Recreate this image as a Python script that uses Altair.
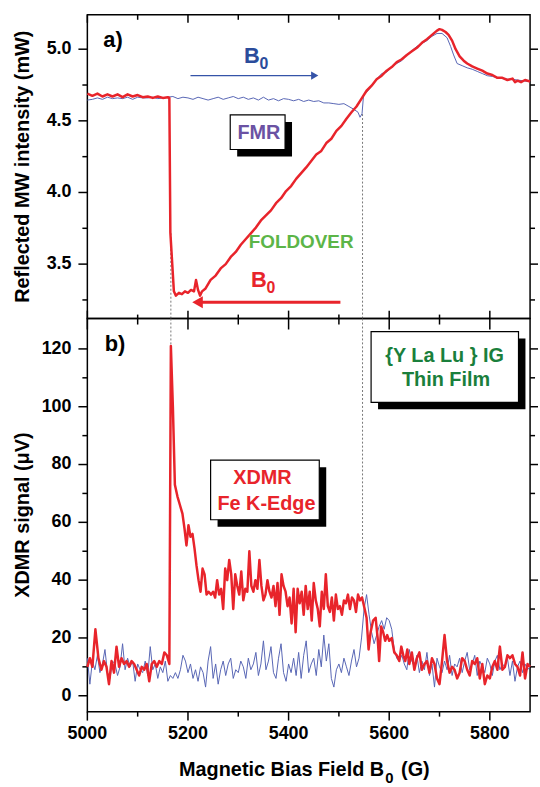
import altair as alt
import pandas as pd

# ---------------- data ----------------
# panel a) reflected MW intensity (mW)
top_red_x = [5000, 5010, 5020, 5030, 5040, 5050, 5060, 5070, 5080, 5090, 5100, 5110, 5120, 5130,
             5140, 5150, 5160, 5163, 5165, 5172, 5176, 5182, 5188, 5194, 5200, 5206, 5212, 5216,
             5220, 5224, 5228, 5235, 5245, 5255, 5265, 5275, 5285, 5295, 5305, 5315, 5325, 5335,
             5345, 5355, 5365, 5375, 5385, 5395, 5405, 5415, 5425, 5435, 5445, 5455, 5465, 5475,
             5485, 5495, 5505, 5515, 5525, 5535, 5545, 5555, 5565, 5575, 5585, 5595, 5605, 5615,
             5625, 5635, 5645, 5655, 5665, 5675, 5685, 5695, 5700, 5705, 5712, 5718, 5725, 5732,
             5740, 5748, 5755, 5765, 5775, 5785, 5795, 5805, 5815, 5825, 5835, 5845, 5850, 5855,
             5862, 5870, 5880]
top_red_y = [4.69, 4.675, 4.69, 4.67, 4.685, 4.67, 4.685, 4.665, 4.685, 4.67, 4.68, 4.665, 4.67, 4.66,
             4.67, 4.66, 4.665, 4.66, 3.72, 3.31, 3.28, 3.30, 3.29, 3.31, 3.30, 3.32, 3.31, 3.39,
             3.32, 3.28, 3.31, 3.33, 3.39, 3.42, 3.47, 3.50, 3.55, 3.585, 3.635, 3.675, 3.715, 3.755,
             3.805, 3.84, 3.875, 3.925, 3.96, 4.01, 4.045, 4.095, 4.135, 4.175, 4.22, 4.265, 4.29, 4.345,
             4.375, 4.43, 4.465, 4.515, 4.56, 4.60, 4.655, 4.71, 4.745, 4.79, 4.815, 4.85, 4.875, 4.91,
             4.93, 4.96, 4.985, 5.01, 5.045, 5.07, 5.10, 5.13, 5.14, 5.135, 5.12, 5.10, 5.06, 5.00,
             4.95, 4.92, 4.90, 4.88, 4.865, 4.85, 4.83, 4.82, 4.80, 4.80, 4.785, 4.795, 4.77, 4.78,
             4.77, 4.785, 4.775]

top_blue_x = [5000, 5010, 5020, 5030, 5040, 5050, 5060, 5070, 5080, 5090, 5100, 5110, 5120, 5130,
              5140, 5150, 5160, 5170, 5180, 5190, 5200, 5210, 5220, 5230, 5240, 5250, 5260, 5270,
              5280, 5290, 5300, 5310, 5320, 5330, 5340, 5350, 5360, 5370, 5380, 5390, 5400, 5410,
              5420, 5430, 5440, 5450, 5460, 5470, 5480, 5490, 5500, 5510, 5520, 5530, 5538, 5542,
              5546, 5549, 5555, 5565, 5575, 5585, 5595, 5605, 5615, 5625, 5635, 5645, 5655, 5665,
              5675, 5685, 5695, 5705, 5715, 5722, 5728, 5735, 5745, 5755, 5765, 5775, 5785, 5795,
              5805, 5815, 5825, 5835, 5845, 5855, 5865, 5875]
top_blue_y = [4.645, 4.65, 4.66, 4.65, 4.665, 4.655, 4.66, 4.655, 4.665, 4.65, 4.665, 4.66, 4.66, 4.665,
              4.655, 4.66, 4.665, 4.67, 4.655, 4.665, 4.66, 4.65, 4.665, 4.655, 4.645, 4.655, 4.665, 4.65,
              4.66, 4.67, 4.655, 4.665, 4.65, 4.66, 4.645, 4.665, 4.645, 4.655, 4.64, 4.655, 4.65, 4.64,
              4.65, 4.635, 4.645, 4.635, 4.64, 4.625, 4.625, 4.62, 4.615, 4.62, 4.60, 4.58, 4.56, 4.525,
              4.55, 4.68, 4.70, 4.74, 4.79, 4.83, 4.84, 4.88, 4.90, 4.92, 4.96, 4.99, 5.02, 5.04,
              5.06, 5.09, 5.11, 5.11, 5.08, 5.02, 4.96, 4.90, 4.885, 4.87, 4.86, 4.845, 4.83, 4.815,
              4.81, 4.80, 4.795, 4.79, 4.79, 4.785, 4.78, 4.775]

# panel b) XDMR signal (uV)
bot_red_x = [5000, 5005, 5010, 5016, 5022, 5028, 5033, 5038, 5043, 5048, 5053, 5058, 5063, 5068,
             5073, 5078, 5083, 5088, 5093, 5098, 5103, 5108, 5113, 5118, 5123, 5128, 5133, 5138,
             5143, 5148, 5153, 5158, 5163, 5166, 5170, 5174, 5179, 5184, 5189, 5193, 5197, 5201,
             5205, 5209, 5213, 5217, 5221, 5225, 5229, 5233, 5237, 5241, 5246, 5250, 5254, 5258,
             5262, 5266, 5270, 5274, 5278, 5282, 5286, 5290, 5294, 5298, 5302, 5306, 5310, 5314,
             5318, 5322, 5326, 5330, 5334, 5338, 5342, 5346, 5350, 5354, 5358, 5362, 5366, 5370,
             5374, 5378, 5382, 5386, 5390, 5394, 5398, 5402, 5406, 5410, 5414, 5418, 5422, 5426,
             5430, 5434, 5438, 5442, 5446, 5450, 5454, 5458, 5462, 5466, 5470, 5474, 5478, 5482,
             5486, 5490, 5494, 5498, 5502, 5506, 5510, 5514, 5518, 5522, 5526, 5530, 5534, 5538,
             5542, 5546, 5550, 5555, 5559, 5563, 5568, 5573, 5577, 5580, 5584, 5588, 5592, 5596,
             5600, 5605, 5610, 5615, 5620, 5624, 5628, 5632, 5636, 5640, 5645, 5650, 5655, 5660,
             5665, 5670, 5675, 5680, 5685, 5690, 5695, 5700, 5705, 5710, 5715, 5720, 5725, 5730,
             5735, 5740, 5745, 5750, 5755, 5760, 5765, 5770, 5775, 5780, 5785, 5790, 5795, 5800,
             5805, 5810, 5815, 5820, 5825, 5830, 5835, 5840, 5845, 5850, 5855, 5860, 5865, 5870,
             5875, 5880]
bot_red_y = [10, 13, 10, 23, 13, 9, 12, 10, 4, 12, 8, 17, 10, 13,
             11, 12, 10, 12, 11, 9, 7, 10, 9, 11, 5, 11, 12, 10,
             12, 11, 15, 14, 11, 121, 100, 73, 69, 66, 63, 58, 52, 59,
             55, 56, 51, 45, 40, 36, 44, 42, 35, 36, 35, 36, 34, 40,
             35, 37, 30, 44, 40, 47, 42, 30, 42, 38, 35, 43, 33, 37,
             36, 50, 38, 36, 40, 37, 47, 38, 33, 35, 40, 36, 34, 38,
             31, 39, 28, 42, 38, 36, 31, 34, 25, 37, 22, 37, 32, 36,
             28, 38, 30, 36, 26, 39, 33, 30, 24, 36, 30, 42, 31, 29,
             34, 26, 35, 30, 31, 28, 33, 32, 35, 30, 34, 33, 29, 35,
             33, 34, 31, 27, 16, 22, 26, 27, 20, 12, 24, 22, 19, 21,
             19, 20, 15, 14, 12, 17, 14, 12, 16, 11, 15, 9, 13, 15,
             9, 11, 12, 8, 13, 11, 6, 4, 12, 21, 12, 8, 10, 9,
             6, 8, 13, 12, 9, 7, 12, 11, 13, 6, 11, 4, 7, 6,
             10, 12, 9, 17, 9, 10, 14, 13, 14, 11, 10, 7, 15, 6,
             11, 10]

bot_blue_x = [5000, 5005, 5010, 5015, 5020, 5025, 5030, 5035, 5040, 5045, 5050, 5055, 5060, 5065,
              5070, 5075, 5080, 5085, 5090, 5095, 5100, 5105, 5110, 5115, 5120, 5125, 5130, 5135,
              5140, 5145, 5150, 5155, 5160, 5165, 5170, 5175, 5180, 5185, 5190, 5195, 5200, 5205,
              5210, 5215, 5220, 5225, 5230, 5235, 5240, 5245, 5250, 5255, 5260, 5265, 5270, 5275,
              5280, 5285, 5290, 5295, 5300, 5305, 5310, 5315, 5320, 5325, 5330, 5335, 5340, 5345,
              5350, 5355, 5360, 5365, 5370, 5375, 5380, 5385, 5390, 5395, 5400, 5405, 5410, 5415,
              5420, 5425, 5430, 5435, 5440, 5445, 5450, 5455, 5460, 5465, 5470, 5475, 5480, 5485,
              5490, 5495, 5500, 5505, 5510, 5515, 5520, 5525, 5530, 5535, 5540, 5545, 5550, 5555,
              5560, 5565, 5570, 5575, 5580, 5585, 5590, 5595, 5600, 5605, 5610, 5615, 5620, 5625,
              5630, 5635, 5640, 5645, 5650, 5655, 5660, 5665, 5670, 5675, 5680, 5685, 5690, 5695,
              5700, 5705, 5710, 5715, 5720, 5725, 5730, 5735, 5740, 5745, 5750, 5755, 5760, 5765,
              5770, 5775, 5780, 5785, 5790, 5795, 5800, 5805, 5810, 5815, 5820, 5825, 5830, 5835,
              5840, 5845, 5850, 5855, 5860, 5865, 5870, 5875, 5880]
bot_blue_y = [13, 4, 12, 9, 14, 8, 11, 16, 8, 6, 12, 11, 7, 10,
              18, 9, 13, 10, 12, 5, 11, 9, 8, 12, 7, 17, 9, 11,
              6, 10, 8, 12, 5, 7, 6, 8, 6, 9, 14, 12, 8, 11,
              6, 9, 5, 10, 8, 3, 12, 17, 6, 11, 4, 9, 12, 7,
              11, 13, 6, 9, 8, 12, 10, 6, 13, 9, 11, 15, 7, 11,
              19, 9, 12, 17, 8, 6, 13, 18, 8, 5, 11, 8, 13, 7,
              15, 6, 14, 19, 8, 11, 13, 7, 16, 10, 21, 12, 18, 6,
              3, 9, 11, 8, 13, 10, 7, 12, 16, 10, 13, 20, 30, 35,
              28, 22, 18, 21, 24, 26, 23, 27, 26, 23, 16, 13, 12, 14,
              11, 9, 16, 12, 10, 14, 8, 12, 9, 15, 7, 11, 3, 13,
              10, 8, 12, 9, 14, 7, 11, 10, 13, 8, 12, 15, 9, 11,
              14, 7, 12, 10, 8, 13, 11, 7, 12, 14, 9, 11, 10, 13,
              7, 12, 5, 10, 12, 8, 11, 9, 10]

# axis ticks (major carry labels, minor are unlabeled)
x_major = [5000, 5200, 5400, 5600, 5800]
x_minor = [5100, 5300, 5500, 5700]
top_major = [3.5, 4.0, 4.5, 5.0]
top_minor = [3.25, 3.75, 4.25, 4.75]
bot_major = [0, 20, 40, 60, 80, 100, 120]
bot_minor = [10, 30, 50, 70, 90, 110]

# axis titles
top_y_title = "Reflected MW intensity  (mW)"
bot_y_title = "XDMR signal (μV)"
x_title_parts = ["Magnetic Bias Field B", "0", "(G)"]

# annotations panel a
top_text = ["FMR", "FOLDOVER", "a)"]
top_text_x = [5341, 5425, 5051]
top_text_y = [4.413, 3.655, 5.064]
top_text_color = ["#6b52a3", "#5cb548", "black"]
top_text_size = [20, 19, 22]

b0_x = [5335, 5349]
b0_y = [4.949, 3.39]
b0_color = ["#2b4c9b", "#e8242b"]

arrow_x1 = [5205, 5503]
arrow_x2 = [5450, 5222]
arrow_y = [4.816, 3.234]
arrow_color = ["#3553a8", "#e8242b"]
arrow_width = [1.2, 3]
head_x = [5452, 5219]
head_shape = ["triangle-right", "triangle-left"]
head_size = [70, 150]

top_box_x1 = [5284]
top_box_x2 = [5393]
top_box_y1 = [4.541]
top_box_y2 = [4.300]

top_dot_x = [5166, 5547]
top_dot_y2 = [3.72, 4.55]

# annotations panel b
bot_text = ["b)", "XDMR", "Fe K-Edge", "{Y La Lu } IG", "Thin Film"]
bot_text_x = [5055, 5348, 5356, 5710, 5713]
bot_text_y = [121.7, 75.4, 66.3, 117.7, 109.2]
bot_text_color = ["black", "#e8242b", "#e8242b", "#1a7f3c", "#1a7f3c"]
bot_text_size = [22, 20, 20, 20, 20]

bot_box_x1 = [5245, 5564]
bot_box_x2 = [5461, 5857]
bot_box_y1 = [81.5, 126.0]
bot_box_y2 = [60.9, 101.5]

bot_dot_x = [5166, 5547]
bot_dot_y2 = [121, 34]

# ---------------- chart ----------------
RED = "#e8242b"
BLUE = "#5866b4"
FONT = "Liberation Sans"
W, H_TOP, H_BOT = 446, 306, 396
XDOM = [5000, 5880]
TOPDOM = [3.12, 5.24]
BOTDOM = [-5.5, 130.5]

xs = alt.Scale(domain=XDOM, nice=False, zero=False)
ys_top = alt.Scale(domain=TOPDOM, nice=False, zero=False)
ys_bot = alt.Scale(domain=BOTDOM, nice=False, zero=False)

df_top_red = pd.DataFrame({"x": top_red_x, "y": top_red_y, "i": range(len(top_red_x))})
df_top_blue = pd.DataFrame({"x": top_blue_x, "y": top_blue_y, "i": range(len(top_blue_x))})
df_bot_red = pd.DataFrame({"x": bot_red_x, "y": bot_red_y, "i": range(len(bot_red_x))})
df_bot_blue = pd.DataFrame({"x": bot_blue_x, "y": bot_blue_y, "i": range(len(bot_blue_x))})

TICK = dict(color="black", strokeWidth=1.5)
LABEL = dict(font=FONT, fontWeight="bold", fontSize=18, color="black")
TITLE = dict(font=FONT, fontWeight="bold", fontSize=20, color="black")

# The whole frame (ticks, tick labels, titles) is drawn with marks; no Vega axes are used.


def X(field):
    return alt.X(field, scale=xs, axis=None)


def Ya(field):
    return alt.Y(field, scale=ys_top, axis=None)


def Yb(field):
    return alt.Y(field, scale=ys_bot, axis=None)


def xticks(values, y0, y1):
    return alt.Chart(pd.DataFrame({"v": values})).mark_rule(**TICK).encode(
        x=X("v:Q"), y=alt.value(y0), y2=alt.value(y1))


def yticks(Y, values, x0, x1):
    return alt.Chart(pd.DataFrame({"v": values})).mark_rule(**TICK).encode(
        y=Y("v:Q"), x=alt.value(x0), x2=alt.value(x1))


def ylabels(Y, values, fmt):
    df = pd.DataFrame({"v": values, "t": [format(v, fmt) for v in values]})
    return alt.Chart(df).mark_text(align="right", baseline="middle", **LABEL).encode(
        y=Y("v:Q"), x=alt.value(-16), text="t:N")


def xlabels(values, y):
    df = pd.DataFrame({"v": values, "t": [str(v) for v in values]})
    return alt.Chart(df).mark_text(align="center", baseline="top", **LABEL).encode(
        x=X("v:Q"), y=alt.value(y), text="t:N")


def ytitle(text, h):
    return alt.Chart(pd.DataFrame({"t": [text]})).mark_text(
        angle=270, align="center", baseline="bottom", **TITLE).encode(
        x=alt.value(-55), y=alt.value(h / 2), text="t:N")


# ---- panel a ----
ticks_a = [
    xticks(x_major, 0, 8), xticks(x_minor, 0, 5),
    yticks(Ya, top_major, -9, 0), yticks(Ya, top_minor, -5, 0),
    yticks(Ya, top_major, W, W + 8), yticks(Ya, top_minor, W, W + 5),
]
frame_a = [ylabels(Ya, top_major, ".1f"), ytitle(top_y_title, H_TOP)]

red_a = alt.Chart(df_top_red).mark_line(color=RED, strokeWidth=2.5, strokeJoin="round").encode(
    x=X("x:Q"), y=Ya("y:Q"), order="i:Q")
blue_a = alt.Chart(df_top_blue).mark_line(color=BLUE, strokeWidth=1).encode(
    x=X("x:Q"), y=Ya("y:Q"), order="i:Q")

dots_a = alt.Chart(pd.DataFrame({"x": top_dot_x, "y2": top_dot_y2})).mark_rule(
    color="#777777", strokeDash=[2, 2], strokeWidth=1).encode(
    x=X("x:Q"), y=Ya("lo:Q"), y2="y2:Q").transform_calculate(lo=str(TOPDOM[0]))

df_box_a = pd.DataFrame({"x1": top_box_x1, "x2": top_box_x2, "y1": top_box_y1, "y2": top_box_y2})
shadow_a = alt.Chart(df_box_a).mark_rect(color="black", xOffset=7, yOffset=7, x2Offset=7, y2Offset=7).encode(
    x=X("x1:Q"), x2="x2:Q", y=Ya("y1:Q"), y2="y2:Q")
box_a = alt.Chart(df_box_a).mark_rect(fill="white", stroke="black", strokeWidth=1.2).encode(
    x=X("x1:Q"), x2="x2:Q", y=Ya("y1:Q"), y2="y2:Q")

df_text_a = pd.DataFrame({"t": top_text, "x": top_text_x, "y": top_text_y,
                          "c": top_text_color, "s": top_text_size})
text_a = alt.Chart(df_text_a).mark_text(font=FONT, fontWeight="bold", baseline="middle", align="center").encode(
    x=X("x:Q"), y=Ya("y:Q"), text="t:N",
    color=alt.Color("c:N", scale=None), size=alt.Size("s:Q", scale=None))

df_b0 = pd.DataFrame({"x": b0_x, "y": b0_y, "c": b0_color})
b_big = alt.Chart(df_b0).mark_text(text="B", font=FONT, fontWeight="bold", fontSize=22,
                                   baseline="middle", align="center", dx=-4).encode(
    x=X("x:Q"), y=Ya("y:Q"), color=alt.Color("c:N", scale=None))
b_sub = alt.Chart(df_b0).mark_text(text="0", font=FONT, fontWeight="bold", fontSize=16,
                                   baseline="middle", align="center", dx=8, dy=8).encode(
    x=X("x:Q"), y=Ya("y:Q"), color=alt.Color("c:N", scale=None))

df_arrow = pd.DataFrame({"x1": arrow_x1, "x2": arrow_x2, "y": arrow_y, "c": arrow_color,
                         "w": arrow_width, "hx": head_x, "sh": head_shape, "hs": head_size})
arrow_lines = alt.Chart(df_arrow).mark_rule().encode(
    x=X("x1:Q"), x2="x2:Q", y=Ya("y:Q"),
    color=alt.Color("c:N", scale=None), strokeWidth=alt.StrokeWidth("w:Q", scale=None))
arrow_heads = alt.Chart(df_arrow).mark_point(filled=True, opacity=1).encode(
    x=X("hx:Q"), y=Ya("y:Q"),
    color=alt.Color("c:N", scale=None), shape=alt.Shape("sh:N", scale=None),
    size=alt.Size("hs:Q", scale=None))

panel_a = alt.layer(*ticks_a, *frame_a, dots_a, blue_a, red_a, shadow_a, box_a, text_a,
                    b_big, b_sub, arrow_lines, arrow_heads).properties(width=W, height=H_TOP)

# ---- panel b ----
ticks_b = [
    xticks(x_major, -8, 11), xticks(x_minor, -4, 6),
    xticks(x_major, H_BOT, H_BOT + 9), xticks(x_minor, H_BOT, H_BOT + 5),
    yticks(Yb, bot_major, -9, 0), yticks(Yb, bot_minor, -5, 0),
    yticks(Yb, bot_major, W, W + 8), yticks(Yb, bot_minor, W, W + 5),
]

xt_main = alt.Chart(pd.DataFrame({"t": [x_title_parts[0]]})).mark_text(
    align="right", baseline="alphabetic", **TITLE).encode(
    x=alt.value(299), y=alt.value(H_BOT + 65), text="t:N")
xt_sub = alt.Chart(pd.DataFrame({"t": [x_title_parts[1]]})).mark_text(
    align="left", baseline="alphabetic", font=FONT, fontWeight="bold", fontSize=15, color="black").encode(
    x=alt.value(300), y=alt.value(H_BOT + 72), text="t:N")
xt_end = alt.Chart(pd.DataFrame({"t": [x_title_parts[2]]})).mark_text(
    align="left", baseline="alphabetic", **TITLE).encode(
    x=alt.value(316), y=alt.value(H_BOT + 65), text="t:N")

frame_b = [ylabels(Yb, bot_major, "d"), xlabels(x_major, H_BOT + 14),
           ytitle(bot_y_title, H_BOT), xt_main, xt_sub, xt_end]

red_b = alt.Chart(df_bot_red).mark_line(color=RED, strokeWidth=2.5, strokeJoin="round").encode(
    x=X("x:Q"), y=Yb("y:Q"), order="i:Q")
blue_b = alt.Chart(df_bot_blue).mark_line(color=BLUE, strokeWidth=1).encode(
    x=X("x:Q"), y=Yb("y:Q"), order="i:Q")

dots_b = alt.Chart(pd.DataFrame({"x": bot_dot_x, "y2": bot_dot_y2})).mark_rule(
    color="#777777", strokeDash=[2, 2], strokeWidth=1).encode(
    x=X("x:Q"), y=Yb("hi:Q"), y2="y2:Q").transform_calculate(hi=str(BOTDOM[1]))

df_box_b = pd.DataFrame({"x1": bot_box_x1, "x2": bot_box_x2, "y1": bot_box_y1, "y2": bot_box_y2})
shadow_b = alt.Chart(df_box_b).mark_rect(color="black", xOffset=7, yOffset=7, x2Offset=7, y2Offset=7).encode(
    x=X("x1:Q"), x2="x2:Q", y=Yb("y1:Q"), y2="y2:Q")
box_b = alt.Chart(df_box_b).mark_rect(fill="white", stroke="black", strokeWidth=1.2).encode(
    x=X("x1:Q"), x2="x2:Q", y=Yb("y1:Q"), y2="y2:Q")

df_text_b = pd.DataFrame({"t": bot_text, "x": bot_text_x, "y": bot_text_y,
                          "c": bot_text_color, "s": bot_text_size})
text_b = alt.Chart(df_text_b).mark_text(font=FONT, fontWeight="bold", baseline="middle", align="center").encode(
    x=X("x:Q"), y=Yb("y:Q"), text="t:N",
    color=alt.Color("c:N", scale=None), size=alt.Size("s:Q", scale=None))

panel_b = alt.layer(*ticks_b, *frame_b, dots_b, blue_b, red_b, shadow_b, box_b, text_b).properties(
    width=W, height=H_BOT)

chart = alt.vconcat(panel_a, panel_b, spacing=0, bounds="flush").properties(
    padding={"left": 12, "top": 10, "right": 0, "bottom": 0}, background="white"
).configure_view(stroke="black", strokeWidth=1.5)

chart.save("out.html", embed_options={"renderer": "svg", "actions": False})
